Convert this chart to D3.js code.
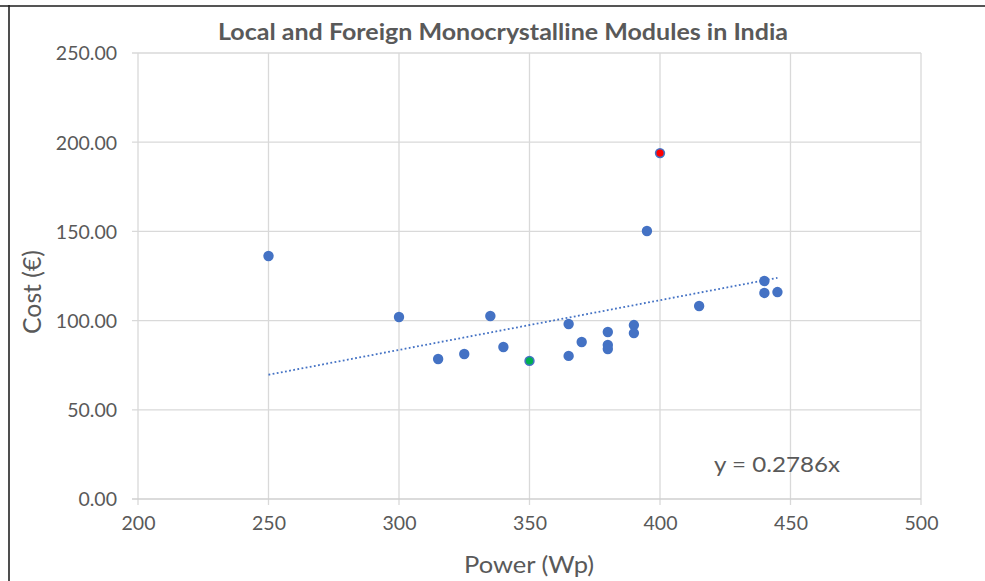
<!DOCTYPE html>
<html>
<head>
<meta charset="utf-8">
<script src="https://cdn.jsdelivr.net/npm/d3@7"></script>
<style>
  html, body { margin: 0; padding: 0; background: #fff; }
  svg { display: block; }
  text { font-family: Lato, "Open Sans", sans-serif; fill: #595959; }
</style>
</head>
<body>
<svg id="chart" width="985" height="581"></svg>
<script>
// Module power rating (Wp) and cost (€) for each module surveyed
const power = [250, 300, 335, 315, 325, 340, 350, 365, 365, 370, 380, 380, 380, 390, 390, 395, 400, 415, 440, 440, 445];
const cost  = [136.2, 102.0, 102.6, 78.5, 81.3, 85.2, 77.4, 98.1, 80.2, 88.0, 93.6, 86.3, 84.1, 97.5, 93.0, 150.2, 193.9, 108.2, 122.2, 115.5, 116.0];

// Two modules singled out with their own marker colour
const highlightPower = [400, 350];
const highlightCost  = [193.9, 77.4];
const highlightColor = ["#FF0000", "#00B050"];

// Linear trendline forced through the origin
const trendSlope = 0.2786;
const trendLabel = "y = 0.2786x";

const xTicks = [200, 250, 300, 350, 400, 450, 500];
const yTicks = [0, 50, 100, 150, 200, 250];

const title = "Local and Foreign Monocrystalline Modules in India";
const xTitle = "Power (Wp)";
const yTitle = "Cost (€)";

const svg = d3.select("#chart");
const W = 985, H = 581;
const plot = { left: 138, right: 921, top: 53, bottom: 499 };

// Chart frame (top and left edges)
svg.append("line").attr("x1", 0).attr("x2", W).attr("y1", 6).attr("y2", 6)
  .attr("stroke", "#555").attr("stroke-width", 2);
svg.append("line").attr("x1", 9).attr("x2", 9).attr("y1", 5).attr("y2", H)
  .attr("stroke", "#222").attr("stroke-width", 1.6);

const x = d3.scaleLinear().domain([200, 500]).range([plot.left, plot.right]);
const y = d3.scaleLinear().domain([0, 250]).range([plot.bottom, plot.top]);

// Gridlines, extended slightly past the axes as cross tick marks
const grid = svg.append("g");
grid.selectAll("line.v").data(xTicks).join("line")
  .attr("x1", d => x(d)).attr("x2", d => x(d))
  .attr("y1", plot.top).attr("y2", plot.bottom + 6)
  .attr("stroke", "#d9d9d9").attr("stroke-width", 1.3);
grid.selectAll("line.h").data(yTicks).join("line")
  .attr("x1", plot.left - 6).attr("x2", plot.right)
  .attr("y1", d => y(d)).attr("y2", d => y(d))
  .attr("stroke", d => d === 0 ? "#cfcfcf" : "#d9d9d9").attr("stroke-width", 1.3);

// Tick labels via d3 axes
const xAxis = svg.append("g").attr("transform", `translate(0,${plot.bottom})`)
  .call(d3.axisBottom(x).tickValues(xTicks).tickFormat(d3.format("d")).tickSize(0).tickPadding(17));
const yAxis = svg.append("g").attr("transform", `translate(${plot.left},0)`)
  .call(d3.axisLeft(y).tickValues(yTicks).tickFormat(d3.format(".2f")).tickSize(0).tickPadding(21));
[xAxis, yAxis].forEach(a => {
  a.select(".domain").remove();
  a.selectAll("text").attr("font-size", 19.5).attr("fill", "#595959")
    .style("font-family", "Lato, 'Open Sans', sans-serif");
});
xAxis.selectAll("text").attr("dy", "0.71em");
yAxis.selectAll("text").attr("dy", "0.35em");

// Trendline over the range of the data
const [xmin, xmax] = d3.extent(power);
svg.append("line")
  .attr("x1", x(xmin)).attr("y1", y(trendSlope * xmin))
  .attr("x2", x(xmax)).attr("y2", y(trendSlope * xmax))
  .attr("stroke", "#4472C4").attr("stroke-width", 1.8)
  .attr("stroke-dasharray", "1.8,2.4");

// Data points
svg.append("g").selectAll("circle").data(d3.range(power.length)).join("circle")
  .attr("cx", i => x(power[i])).attr("cy", i => y(cost[i]))
  .attr("r", 5.2).attr("fill", "#4472C4");

svg.append("g").selectAll("circle").data(d3.range(highlightPower.length)).join("circle")
  .attr("cx", i => x(highlightPower[i])).attr("cy", i => y(highlightCost[i]))
  .attr("r", 3.6).attr("fill", (i) => highlightColor[i]);

// Trendline equation
svg.append("text").attr("x", 714).attr("y", 472)
  .attr("font-size", 22).attr("textLength", 126).attr("lengthAdjust", "spacingAndGlyphs")
  .text(trendLabel);

// Titles
svg.append("text").attr("x", 503).attr("y", 40).attr("text-anchor", "middle")
  .attr("font-size", 23).attr("font-weight", "bold")
  .attr("textLength", 570).attr("lengthAdjust", "spacingAndGlyphs").text(title);
svg.append("text").attr("x", 529).attr("y", 573).attr("text-anchor", "middle")
  .attr("font-size", 24).attr("textLength", 130).attr("lengthAdjust", "spacingAndGlyphs").text(xTitle);
svg.append("text").attr("transform", "translate(41,292) rotate(-90)")
  .attr("text-anchor", "middle").attr("font-size", 25)
  .attr("textLength", 84).attr("lengthAdjust", "spacingAndGlyphs").text(yTitle);
</script>
</body>
</html>
